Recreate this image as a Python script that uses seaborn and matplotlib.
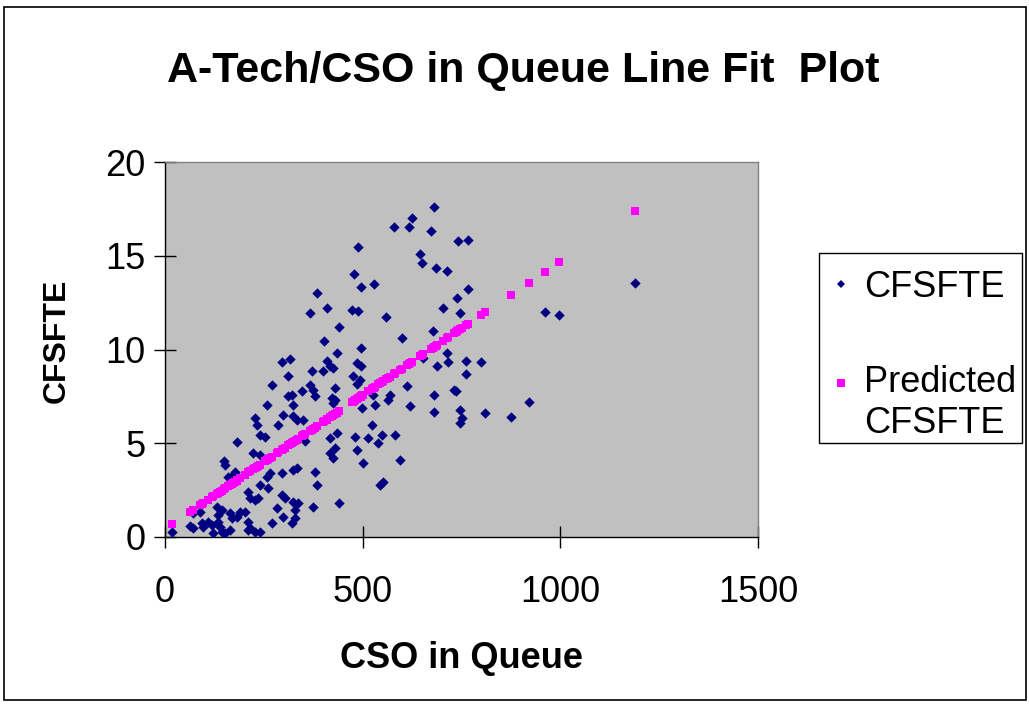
import numpy as np
import pandas as pd
import matplotlib
matplotlib.use("Agg")
import matplotlib.pyplot as plt
import seaborn as sns
from matplotlib.patches import Rectangle
from matplotlib.lines import Line2D

# Observations: CSO in queue vs. CFSFTE
cso_in_queue = [
    681, 624, 578, 616, 674, 742, 767, 488, 645, 650, 685, 713, 477, 495, 528,
    767, 384, 739, 409, 473, 488, 367, 702, 746, 560, 441, 677, 402, 599, 496,
    1189, 960, 997, 761, 799, 761, 736, 921, 746, 751, 746, 810, 875,
    434, 713, 411, 485, 495, 417, 426, 371, 399, 687, 717, 476, 493, 485, 653,
    367, 375, 379, 430, 422, 430, 426, 527, 531, 569, 565, 613, 620, 681, 681,
    731, 499, 523, 417, 434, 481, 514, 548, 540, 582, 417, 426, 430, 485, 502,
    594, 379, 384, 544, 552, 374, 441,
    295, 316, 312, 270, 346, 312, 321, 325, 257, 299, 325, 333, 350, 228, 232,
    287, 240, 253, 183, 354, 223, 240, 266, 148, 152, 160, 173, 266, 257, 325,
    333, 295, 240, 261, 211, 236, 228, 295, 304, 325, 337, 329, 283, 329, 321,
    270, 240, 211, 211, 190, 202, 181, 164, 169, 131, 143, 135, 135, 139, 143,
    110, 118, 97, 72, 164, 152, 122, 72, 89, 17, 177, 215, 299, 215, 228, 63,
    93,
]
cfsfte = [
    17.58, 16.99, 16.52, 16.52, 16.31, 15.79, 15.84, 15.47, 15.10, 14.62, 14.35,
    14.17, 14.03, 13.35, 13.49, 13.25, 13.03, 12.74, 12.23, 12.10, 12.05, 11.96,
    12.19, 11.93, 11.76, 11.21, 11.00, 10.46, 10.61, 10.07,
    13.55, 11.98, 11.82, 9.39, 9.32, 8.72, 7.81, 7.20, 6.79, 6.35, 6.08, 6.59,
    6.42,
    9.79, 9.79, 9.38, 9.29, 9.11, 9.11, 9.02, 8.84, 8.84, 9.11, 9.34, 8.57, 8.40,
    8.18, 9.56, 8.13, 7.86, 7.50, 7.95, 7.42, 7.33, 7.15, 7.59, 7.06, 7.59, 7.29,
    8.04, 6.97, 7.59, 6.67, 7.82, 6.88, 5.99, 5.28, 5.55, 5.36, 5.28, 5.45, 5.01,
    5.45, 4.48, 4.21, 4.74, 4.65, 3.94, 4.12, 3.49, 2.78, 2.78, 2.96, 1.62, 1.80,
    9.34, 9.47, 8.57, 8.13, 7.77, 7.50, 7.59, 7.06, 7.06, 6.52, 6.43, 6.26, 6.26,
    6.35, 5.99, 5.99, 5.45, 5.33, 5.06, 5.10, 4.48, 4.39, 4.21, 4.03, 3.85, 3.22,
    3.32, 3.41, 3.22, 3.58, 3.67, 3.41, 2.78, 2.60, 2.42, 2.07, 1.98, 2.25, 2.07,
    1.89, 1.80, 1.44, 1.53, 1.00, 0.73, 0.73, 0.28, 0.37, 0.82, 1.35, 1.35, 1.09,
    1.27, 1.00, 1.62, 1.44, 1.18, 0.82, 0.55, 0.28, 0.82, 0.64, 0.55, 0.46, 0.37,
    0.20, 0.20, 1.27, 1.35, 0.28, 3.49, 2.07, 1.09, 0.47, 0.28, 0.60, 0.73,
]

x_ticks = [0, 500, 1000, 1500]
y_ticks = [0, 5, 10, 15, 20]

df = pd.DataFrame({"CSO in Queue": cso_in_queue, "CFSFTE": cfsfte})
# least-squares line fit of CFSFTE on CSO in queue
slope, intercept = np.polyfit(df["CSO in Queue"], df["CFSFTE"], 1)
df["Predicted CFSFTE"] = intercept + slope * df["CSO in Queue"]

plt.rcParams["font.family"] = ["Liberation Sans", "DejaVu Sans"]

W, H = 1029, 704
fig = plt.figure(figsize=(W / 100, H / 100), dpi=100)
fig.patch.set_facecolor("white")
ax = fig.add_axes([165 / W, 1 - 537 / H, (758 - 165) / W, (537 - 162) / H])
ax.set_facecolor("#C0C0C0")

sns.scatterplot(data=df, x="CSO in Queue", y="CFSFTE", marker="D", s=28,
                color="#000080", linewidth=0, ax=ax, legend=False, zorder=3)
sns.scatterplot(data=df, x="CSO in Queue", y="Predicted CFSFTE", marker="s", s=36,
                color="#FF00FF", linewidth=0, ax=ax, legend=False, zorder=4)

ax.set_xlim(0, 1500)
ax.set_ylim(0, 20)
ax.set_xticks(x_ticks)
ax.set_yticks(y_ticks)
ax.set_xlabel("")
ax.set_ylabel("")
ax.grid(False)
ax.tick_params(axis="both", direction="inout", length=16, width=1.0,
               color="black", labelsize=26, labelcolor="black")
ax.tick_params(axis="y", pad=6)
ax.tick_params(axis="x", pad=19)
for side in ("left", "bottom"):
    ax.spines[side].set_color("black")
    ax.spines[side].set_linewidth(1.0)
for side in ("top", "right"):
    ax.spines[side].set_color("#808080")
    ax.spines[side].set_linewidth(1.0)

fig.text(523 / W, 1 - 82 / H, "A-Tech/CSO in Queue Line Fit  Plot",
         ha="center", va="baseline", fontsize=31, fontweight="bold")
fig.text(461 / W, 1 - 668 / H, "CSO in Queue", ha="center", va="baseline",
         fontsize=26, fontweight="bold")
fig.text(57 / W, 1 - 341 / H, "CFSFTE", ha="center", va="center",
         rotation=90, fontsize=23, fontweight="bold")

# legend: entries without frame, box drawn as a separate rectangle
handles = [
    Line2D([], [], linestyle="none", marker="D", markersize=4,
           markerfacecolor="#000080", markeredgewidth=0),
    Line2D([], [], linestyle="none", marker="s", markersize=5.5,
           markerfacecolor="#FF00FF", markeredgewidth=0),
]
leg = ax.legend(handles, ["CFSFTE", "Predicted\nCFSFTE"],
                loc="upper left", bbox_to_anchor=(819 / W, 1 - 259 / H),
                bbox_transform=fig.transFigure, fontsize=26, frameon=False,
                handlelength=0.6, handletextpad=0.35, borderpad=0.3,
                labelspacing=1.68, borderaxespad=0)
# put the second marker level with the first line of its two-line label
pred_handle = leg.legend_handles[1]
pred_handle.set_ydata(np.asarray(pred_handle.get_ydata()) + 15)

fig.patches.append(Rectangle((819 / W, 1 - 443 / H), (1022 - 819) / W, (443 - 253) / H,
                             transform=fig.transFigure, fill=True,
                             facecolor="none", edgecolor="black", linewidth=1.0))

fig.patches.append(Rectangle((4 / W, 1 - 700 / H), (1026 - 4) / W, (700 - 7) / H,
                             transform=fig.transFigure, fill=False,
                             edgecolor="black", linewidth=1.2))

fig.savefig("out.png", dpi=100, facecolor="white")
